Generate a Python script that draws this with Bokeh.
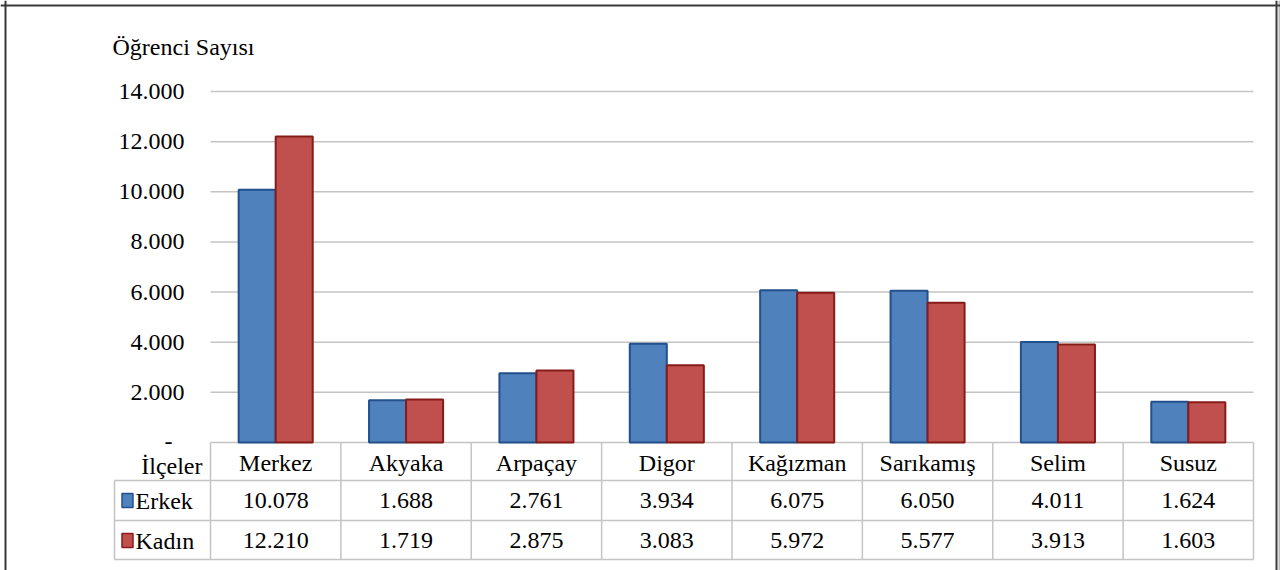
from bokeh.plotting import figure
from bokeh.models import Range1d, Span
from bokeh.core.properties import value
from bokeh.embed import file_html
from bokeh.resources import INLINE

# ---- data ----
categories = ["Merkez", "Akyaka", "Arpaçay", "Digor", "Kağızman", "Sarıkamış", "Selim", "Susuz"]
erkek = [10078, 1688, 2761, 3934, 6075, 6050, 4011, 1624]
kadin = [12210, 1719, 2875, 3083, 5972, 5577, 3913, 1603]
series_names = ["Erkek", "Kadın"]
y_ticks = [0, 2000, 4000, 6000, 8000, 10000, 12000, 14000]
y_title = "Öğrenci Sayısı"
table_header = "İlçeler"

def fmt(v):
    return "-" if v == 0 else f"{v:,}".replace(",", ".")

# ---- layout helpers (image pixel -> data) ----
W, H = 1280, 570
K = 351.0 / 14000.0      # px per unit
CW = 130.375             # px per category
def Y(py):
    return (442 - py) / K
def X(px):
    return (px - 210) / CW

FONT = value("Liberation Serif")
FS = "24px"
BLUE, RED = "#4F81BD", "#C0504D"
BLUE_D, RED_D = "#22508C", "#861C19"
GRID = "#C4C4C4"
TXT = "#000000"

n = len(categories)
p = figure(width=W, height=H, output_backend="svg", toolbar_location=None,
           x_range=Range1d(X(0), X(W)), y_range=Range1d(Y(H), Y(0)),
           min_border=0)
p.xaxis.visible = False
p.yaxis.visible = False
p.xgrid.grid_line_color = None
p.ygrid.grid_line_color = None
p.outline_line_color = None
p.background_fill_color = "white"

# outer border (with light shadow on the right)
p.add_layout(Span(location=X(1279), dimension="height", line_color="#BBBBBB", line_width=2))
for loc in [X(5), X(1276)]:
    p.add_layout(Span(location=loc, dimension="height", line_color="#3A3A3A", line_width=2))
p.add_layout(Span(location=Y(5), dimension="width", line_color="#3A3A3A", line_width=2))

# gridlines
gt = y_ticks[1:]
p.segment(x0=[0] * len(gt), x1=[n] * len(gt), y0=gt, y1=gt, line_color=GRID, line_width=1.5)

# tick labels
p.text(x=[X(184)] * (len(y_ticks) - 1), y=y_ticks[1:], text=[fmt(v) for v in y_ticks[1:]],
       text_font=FONT, text_font_size=FS, text_align="right", text_baseline="middle",
       text_color=TXT)
p.text(x=[X(168)], y=[y_ticks[0]], text=[fmt(y_ticks[0])],
       text_font=FONT, text_font_size=FS, text_align="center", text_baseline="bottom",
       text_color=TXT, y_offset=6)
p.text(x=[X(112)], y=[Y(46)], text=[y_title], text_font=FONT, text_font_size=FS,
       text_align="left", text_baseline="middle", text_color=TXT)

# table lines
rows_y = [Y(480), Y(520), Y(559)]
p.segment(x0=[0], x1=[n], y0=[0], y1=[0], line_color=GRID, line_width=1.5)
p.segment(x0=[X(114)] * 3, x1=[n] * 3, y0=rows_y, y1=rows_y, line_color=GRID, line_width=1.5)
p.segment(x0=list(range(n + 1)), x1=list(range(n + 1)), y0=[0] * (n + 1), y1=[Y(559)] * (n + 1),
          line_color=GRID, line_width=1.5)
p.segment(x0=[X(114)], x1=[X(114)], y0=[Y(480)], y1=[Y(559)], line_color=GRID, line_width=1.5)

# bars
bw = 0.284
xs = [i + 0.5 for i in range(n)]
p.vbar(x=[x - bw / 2 for x in xs], top=erkek, bottom=0, width=bw,
       fill_color=BLUE, line_color=BLUE_D, line_width=2)
p.vbar(x=[x + bw / 2 for x in xs], top=kadin, bottom=0, width=bw,
       fill_color=RED, line_color=RED_D, line_width=2)

# table texts
p.text(x=xs, y=[Y(462)] * n, text=categories, text_font=FONT, text_font_size=FS,
       text_align="center", text_baseline="middle", text_color=TXT)
p.text(x=[X(202)], y=[Y(465)], text=[table_header], text_font=FONT, text_font_size=FS,
       text_align="right", text_baseline="middle", text_color=TXT)
p.text(x=xs, y=[Y(500)] * n, text=[fmt(v) for v in erkek], text_font=FONT, text_font_size=FS,
       text_align="center", text_baseline="middle", text_color=TXT)
p.text(x=xs, y=[Y(540)] * n, text=[fmt(v) for v in kadin], text_font=FONT, text_font_size=FS,
       text_align="center", text_baseline="middle", text_color=TXT)

# legend keys + names
key_y = [Y(500), Y(540)]
p.rect(x=[X(127)] * 2, y=key_y, width=11, height=14, width_units="screen", height_units="screen",
       fill_color=[BLUE, RED], line_color=[BLUE_D, RED_D], line_width=1.5)
p.text(x=[X(135)] * 2, y=key_y, text=series_names, text_font=FONT, text_font_size=FS,
       text_align="left", text_baseline="middle", text_color=TXT)

open("out.html", "w").write(file_html(p, INLINE))
